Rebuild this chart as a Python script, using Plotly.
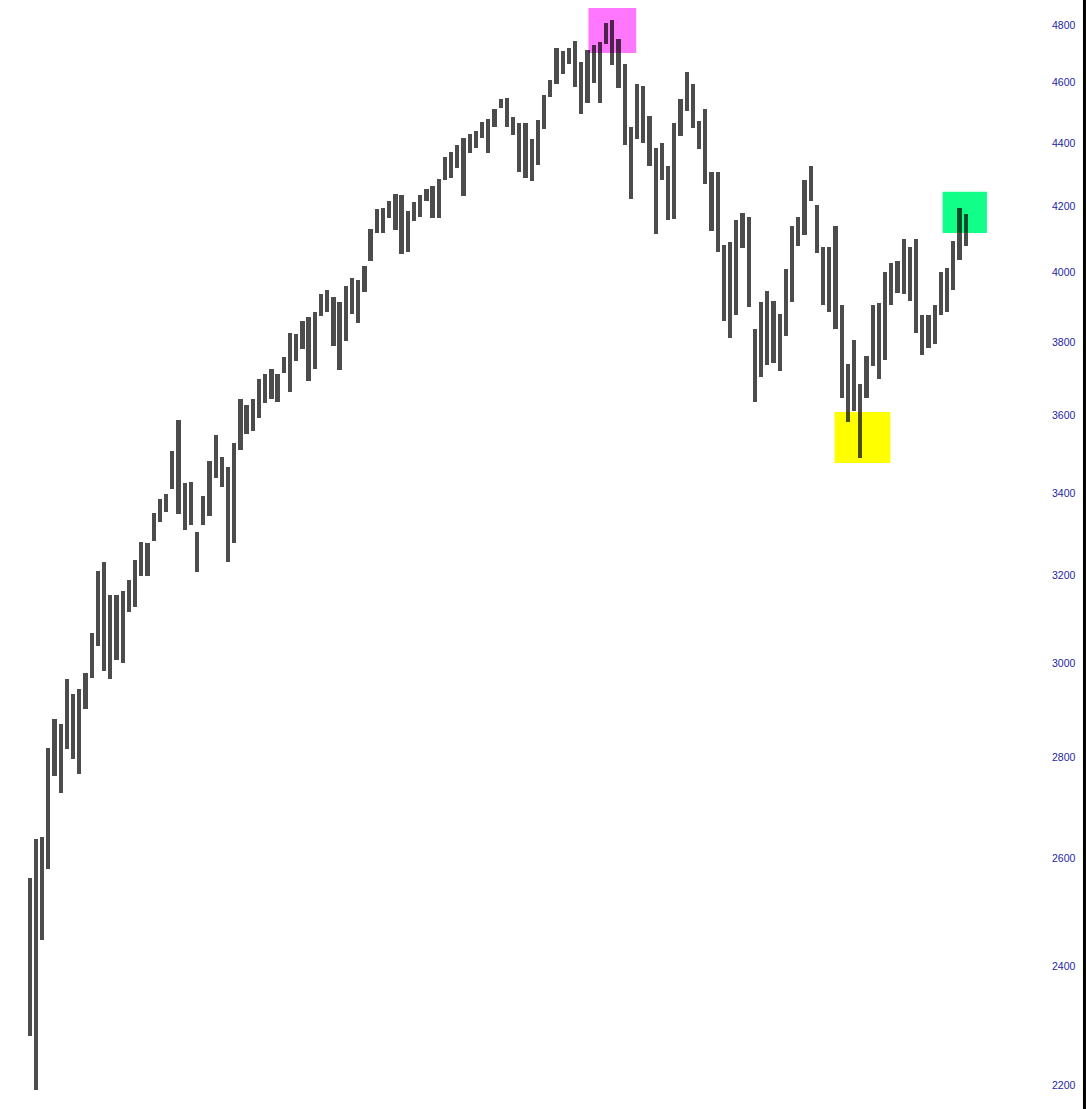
import pandas as pd
import plotly.graph_objects as go

# Weekly S&P 500 ranges (week starting Monday 2020-03-16)
first_week = "2020-03-16"

highs_2020 = [2562, 2637, 2641, 2818, 2879, 2870, 2965, 2934, 2945, 2980, 3068, 3211,
              3233, 3155, 3155, 3165, 3190, 3238, 3280, 3279, 3352, 3387, 3399, 3509,
              3588, 3425, 3428, 3306, 3393, 3482, 3550, 3493, 3466, 3529, 3646, 3628,
              3645, 3699, 3712, 3726, 3712, 3760]
lows_2020 = [2280, 2191, 2447, 2579, 2761, 2727, 2816, 2797, 2766, 2902, 2969, 3038,
             2984, 2965, 3007, 3000, 3115, 3127, 3200, 3200, 3284, 3328, 3354, 3411,
             3349, 3310, 3322, 3209, 3323, 3345, 3440, 3416, 3233, 3279, 3511, 3553,
             3559, 3594, 3633, 3646, 3636, 3715]

highs_2021 = [3827, 3823, 3861, 3871, 3887, 3937, 3950, 3928, 3914, 3960, 3983, 3978,
              4020, 4130, 4191, 4194, 4218, 4238, 4236, 4186, 4213, 4234, 4255, 4262,
              4286, 4356, 4372, 4393, 4415, 4429, 4440, 4470, 4480, 4513, 4545, 4549,
              4486, 4465, 4466, 4412, 4475, 4559, 4608, 4718, 4707, 4718, 4743, 4672,
              4713, 4731, 4741, 4808]
lows_2021 = [3663, 3749, 3781, 3694, 3725, 3875, 3885, 3789, 3723, 3805, 3880, 3853,
             3943, 4034, 4118, 4118, 4164, 4126, 4056, 4061, 4155, 4168, 4215, 4165,
             4165, 4281, 4290, 4321, 4233, 4367, 4385, 4416, 4368, 4451, 4514, 4453,
             4427, 4306, 4288, 4279, 4329, 4447, 4552, 4595, 4630, 4663, 4585, 4495,
             4532, 4600, 4531, 4733]

highs_2022 = [4818, 4749, 4664, 4453, 4595, 4590, 4489, 4385, 4402, 4327, 4465, 4546,
              4637, 4594, 4471, 4513, 4308, 4307, 4081, 4091, 4158, 4178, 4168, 3838,
              3913, 3946, 3918, 3880, 4012, 4141, 4167, 4281, 4325, 4203, 4077, 4076,
              4140, 3907, 3740, 3806, 3685, 3762, 3905, 3912, 4001, 4028, 4034, 4101,
              4076, 4101, 3876, 3878]
lows_2022 = [4662, 4582, 4395, 4222, 4414, 4401, 4327, 4115, 4281, 4157, 4162, 4424,
             4506, 4450, 4381, 4269, 4124, 4062, 3859, 3811, 3876, 4074, 3900, 3637,
             3705, 3738, 3742, 3721, 3819, 3913, 4080, 4112, 4218, 4057, 3906, 3887,
             3837, 3647, 3584, 3612, 3491, 3647, 3735, 3698, 3750, 3906, 3939, 3938,
             3918, 3827, 3765, 3783]

highs_2023 = [3906, 4003, 4015, 4095, 4195, 4176]
lows_2023 = [3794, 3877, 3885, 3949, 4037, 4079]

highs = highs_2020 + highs_2021 + highs_2022 + highs_2023
lows = lows_2020 + lows_2021 + lows_2022 + lows_2023
weeks = pd.date_range(first_week, periods=len(highs), freq="7D")

# Highlight boxes: (x0, x1, y0, y1, colour)
box_x0 = ["2021-12-09", "2022-09-13", "2023-01-13"]
box_x1 = ["2022-02-01", "2022-11-15", "2023-03-04"]
box_lo = [4702, 3477, 4118]
box_hi = [4860, 3610, 4245]
box_colors = ["#ff77ff", "#ffff00", "#11ff88"]

tick_values = [2200, 2400, 2600, 2800, 3000, 3200, 3400, 3600, 3800, 4000, 4200, 4400, 4600, 4800]

DAY = 86400000

fig = go.Figure()
fig.add_trace(go.Bar(
    x=weeks,
    base=lows,
    y=[h - l for h, l in zip(highs, lows)],
    width=4.8 * DAY,
    offset=-0.4 * DAY,
    marker=dict(color="rgba(0,0,0,0.7)", line=dict(width=0)),
    hovertext=[f"H {h} / L {l}" for h, l in zip(highs, lows)],
    showlegend=False,
))

shapes = []
for x0, x1, y0, y1, c in zip(box_x0, box_x1, box_lo, box_hi, box_colors):
    shapes.append(dict(type="rect", xref="x", yref="y", x0=x0, x1=x1, y0=y0, y1=y1,
                       fillcolor=c, line=dict(width=0), layer="below"))
shapes.append(dict(type="line", xref="paper", yref="paper", x0=1.0348, x1=1.0348,
                   y0=0, y1=1, line=dict(color="black", width=3)))

fig.update_layout(
    width=1086, height=1109,
    margin=dict(l=0, r=38, t=0, b=0),
    paper_bgcolor="white", plot_bgcolor="white",
    shapes=shapes,
    bargap=0,
    xaxis=dict(visible=False, type="date", range=["2020-02-13 12:00", "2023-05-12"]),
    yaxis=dict(type="log", side="right", range=[3.3347, 3.6892],
               tickvals=tick_values, ticktext=[str(v) for v in tick_values],
               showgrid=False, zeroline=False, showline=False, ticks="",
               ticklabelstandoff=3,
               tickfont=dict(family="Liberation Sans, Arial, sans-serif", size=10.5, color="#2424a4")),
)

fig.write_html("out.html", config={"displayModeBar": False},
               post_script="document.body.style.margin='0';document.body.style.overflow='hidden';")
